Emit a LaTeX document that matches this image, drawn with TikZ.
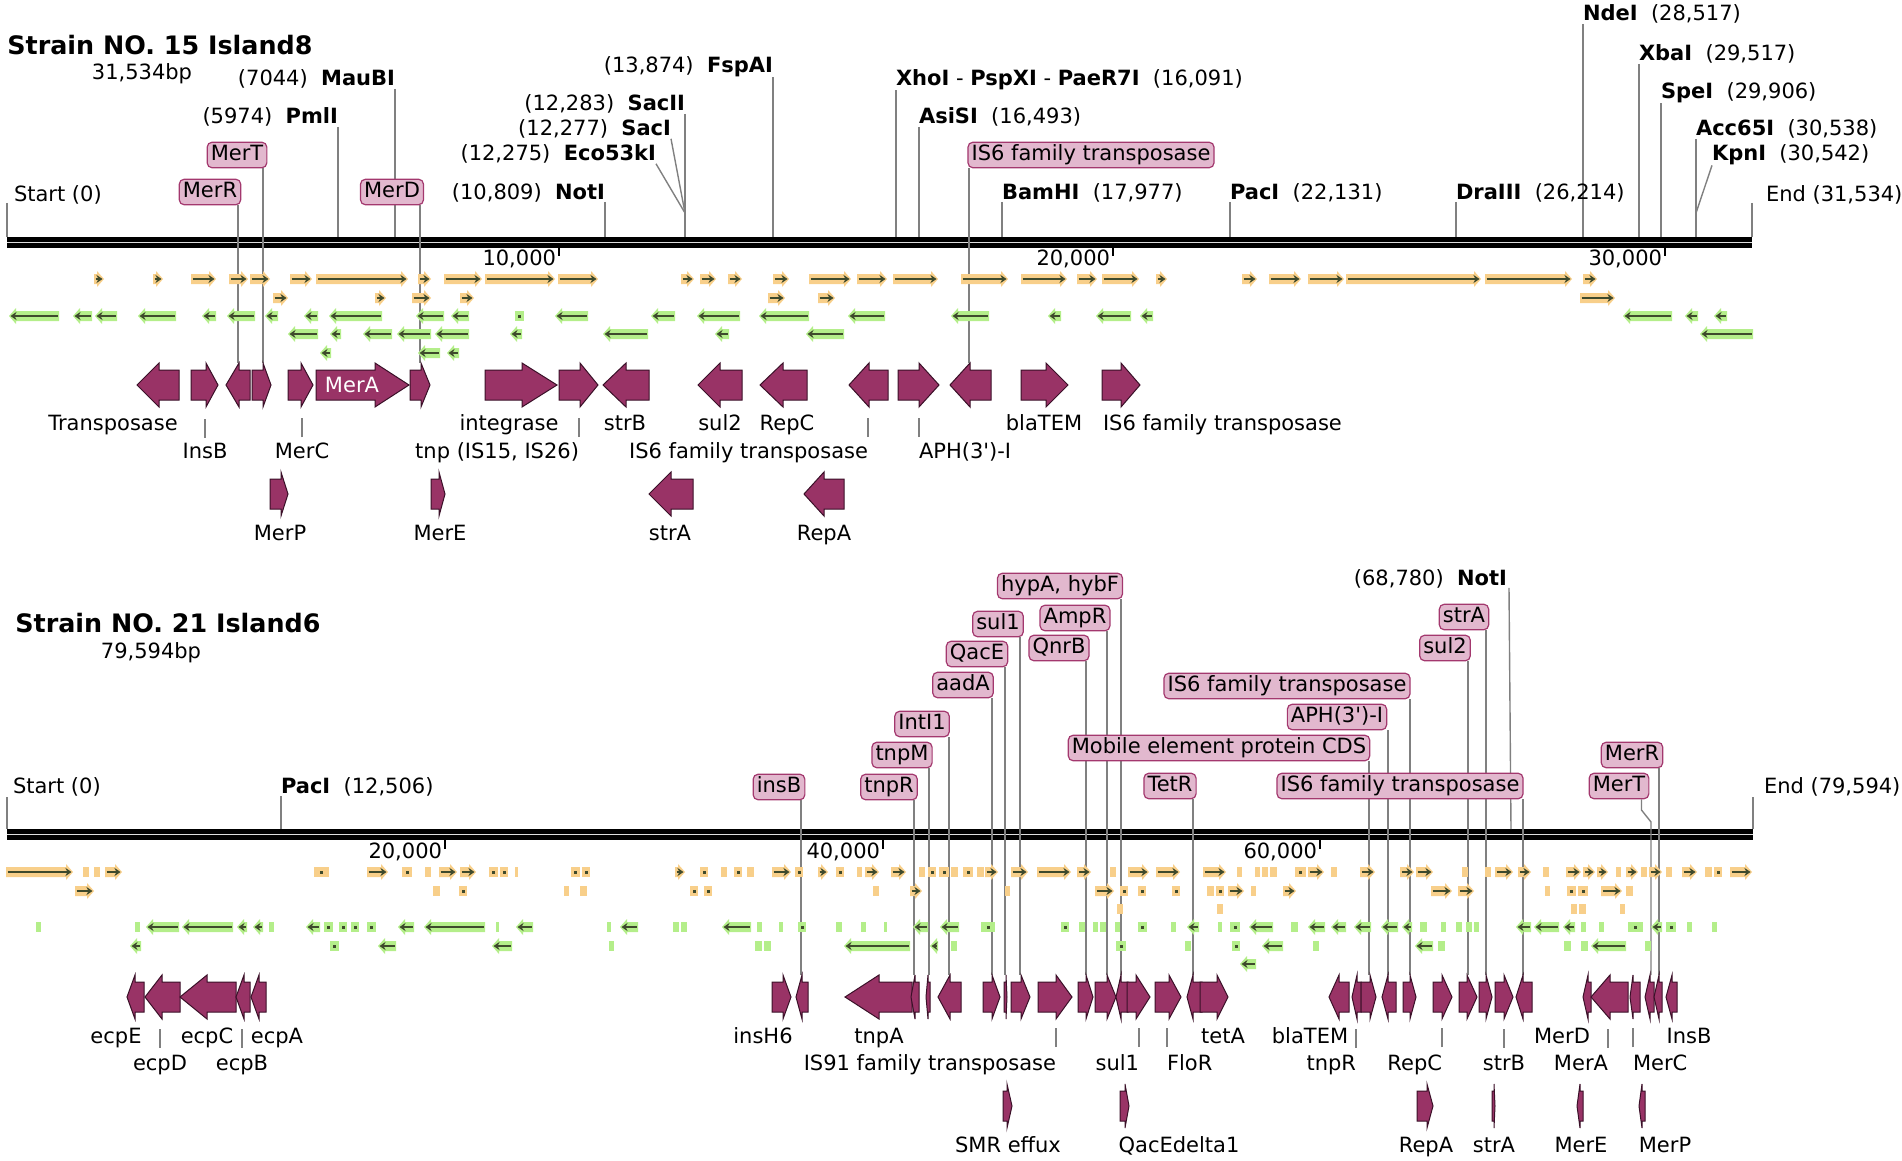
\documentclass[tikz,border=0pt]{standalone}
\usepackage{fontspec}
\setmainfont{DejaVu Sans}
\usepackage{tikz}
\usetikzlibrary{arrows.meta}
\usetikzlibrary{backgrounds}
\definecolor{gene}{HTML}{993366}
\definecolor{geneline}{HTML}{3A1028}
\definecolor{tagfill}{HTML}{E2B8CE}
\definecolor{tagline}{HTML}{A3386E}
\definecolor{fwdhl}{HTML}{F8CF8A}
\definecolor{revhl}{HTML}{B4EE8A}
\definecolor{featdark}{HTML}{3E4A2C}
\definecolor{leadgray}{HTML}{808080}
\newcommand*{\lblfont}{\fontsize{10.5}{12}\selectfont}
\newcommand*{\titlefont}{\fontsize{12.7}{15}\selectfont\bfseries}
\tikzstyle{base}=[x=0.5pt, y=-0.5pt]
\tikzstyle{lbl}=[font=\lblfont, inner sep=0pt, outer sep=0pt]
\tikzstyle{title}=[font=\titlefont, inner sep=0pt]
\tikzstyle{tag}=[font=\lblfont, draw=tagline, fill=tagfill, line width=0.6pt, rounded corners=2.5pt, inner xsep=1.8pt, inner ysep=1.5pt, text height=7.6pt, text depth=2.2pt]
\tikzstyle{lead}=[draw=leadgray, line width=0.7pt]
\tikzstyle{genebody}=[fill=gene, draw=geneline, line width=0.5pt]
\tikzstyle{tickmark}=[line width=1pt]
% gene arrow: start, tip, head base, y
\newcommand*{\genearrow}[4]{\draw[genebody] (#1,#4-15) -- (#3,#4-15) -- (#3,#4-22) -- (#2,#4) -- (#3,#4+22) -- (#3,#4+15) -- (#1,#4+15) -- cycle;}
% feature arrow: start, tip, y, colour
\newcommand*{\feat}[4]{%
  \pgfmathsetmacro{\fhd}{min(7,abs(#2-#1))}%
  \pgfmathsetmacro{\fsg}{ifthenelse(#2>#1,1,-1)}%
  \fill[#4] (#1,#3-5) -- ({#2-\fsg*\fhd},#3-5) -- ({#2-\fsg*\fhd},#3-8) -- (#2,#3) -- ({#2-\fsg*\fhd},#3+8) -- ({#2-\fsg*\fhd},#3+5) -- (#1,#3+5) -- cycle;
  \draw[featdark, line width=1pt, -{Stealth[length=3pt,width=4pt]}] ({#1+\fsg*1.5},#3) -- ({#2-\fsg*1.5},#3);}
% feature box: start, end, y, colour
\newcommand*{\featbox}[4]{%
  \fill[#4] (#1,#3-5) rectangle (#2,#3+5);
  \pgfmathtruncatemacro{\fwide}{(#2-#1)>7}%
  \ifnum\fwide=1 \fill[featdark] ({(#1+#2)/2-1.5},#3-1.5) rectangle ({(#1+#2)/2+1.5},#3+1.5);\fi}

\begin{document}
\begin{tikzpicture}[base]
\useasboundingbox (0,0) rectangle (1902,1161);

% ===== Strain NO. 15 =====
\node[title, anchor=base west] (title15) at (7,55) {Strain NO. 15 Island8};
\node[lbl, anchor=base] (len15) at (142,80) {31,534bp};
\coordinate (bar15) at (0,237);
\coordinate (s15) at (7,203);
\coordinate (e15) at (1752,203);
\node[lbl, anchor=base west] (start15) at (14,201) {Start (0)};
\node[lbl, anchor=base west] (end15) at (1766,201) {End (31,534)};

\node[lbl, anchor=base east] (pmli) at (338,124) {(5974)~~\textbf{PmlI}};
\node[lbl, anchor=base east] (maubi) at (395,86) {(7044)~~\textbf{MauBI}};
\node[lbl, anchor=base east] (noti) at (605,199) {(10,809)~~\textbf{NotI}};
\node[lbl, anchor=base east] (eco53ki) at (656,161) {(12,275)~~\textbf{Eco53kI}};
\node[lbl, anchor=base east] (saci) at (671,136) {(12,277)~~\textbf{SacI}};
\node[lbl, anchor=base east] (sacii) at (685,111) {(12,283)~~\textbf{SacII}};
\node[lbl, anchor=base east] (fspai) at (773,73) {(13,874)~~\textbf{FspAI}};
\node[lbl, anchor=base west] (xhoi) at (896,86) {\textbf{XhoI} - \textbf{PspXI} - \textbf{PaeR7I}~~(16,091)};
\node[lbl, anchor=base west] (asisi) at (919,124) {\textbf{AsiSI}~~(16,493)};
\node[lbl, anchor=base west] (bamhi) at (1002,199) {\textbf{BamHI}~~(17,977)};
\node[lbl, anchor=base west] (paci) at (1230,199) {\textbf{PacI}~~(22,131)};
\node[lbl, anchor=base west] (draiii) at (1456,199) {\textbf{DraIII}~~(26,214)};
\node[lbl, anchor=base west] (ndei) at (1583,21) {\textbf{NdeI}~~(28,517)};
\node[lbl, anchor=base west] (xbai) at (1639,61) {\textbf{XbaI}~~(29,517)};
\node[lbl, anchor=base west] (spei) at (1661,99) {\textbf{SpeI}~~(29,906)};
\node[lbl, anchor=base west] (acc65i) at (1696,136) {\textbf{Acc65I}~~(30,538)};
\node[lbl, anchor=base west] (kpni) at (1712,161) {\textbf{KpnI}~~(30,542)};
\coordinate (sacjoin) at (685,213);
\coordinate (kpnjoin) at (1696,213);

\node[tag] (merr) at (210,192) {MerR};
\node[tag] (mert) at (237,155) {MerT};
\node[tag] (merd) at (392,192) {MerD};
\node[tag] (is6a) at (1091,155) {IS6 family transposase};
\coordinate (g-merr) at (238,363);
\coordinate (g-mert) at (263,363);
\coordinate (g-merd) at (420,363);
\coordinate (g-is6a) at (969,363);

% ruler ticks
\foreach \tx/\tl in {559/{10,000}, 1113/{20,000}, 1665/{30,000}}{
  \draw[tickmark] (\tx,248) -- (\tx,256);
  \node[lbl, anchor=base east] (tk-\tx) at (\tx-3,265) {\tl};
}

% features
\foreach \a/\b in {94/104, 153/163, 191/216, 229/248, 250/270, 290/312, 316/408, 418/431, 444/482, 485/555, 558/598, 681/694, 700/716, 728/742, 773/789, 809/851, 857/887, 893/938, 961/1008, 1021/1067, 1077/1097, 1102/1139, 1156/1167, 1242/1257, 1269/1301, 1308/1344, 1346/1481, 1485/1572, 1583/1597}
  \feat{\a}{\b}{279}{fwdhl};
\foreach \a/\b in {273/288, 375/386, 412/431, 460/474, 768/785, 818/835, 1580/1615}
  \feat{\a}{\b}{298}{fwdhl};
\foreach \a/\b in {59/9, 92/73, 117/95, 176/138, 216/202, 255/227, 278/265, 318/304, 382/329, 444/416, 469/451, 588/555, 675/651, 740/697, 809/759, 885/848, 989/951, 1061/1048, 1131/1096, 1153/1140, 1672/1623, 1698/1685, 1727/1714}
  \feat{\a}{\b}{316}{revhl};
\featbox{515}{524}{316}{revhl}
\foreach \a/\b in {318/288, 341/330, 392/363, 431/397, 469/435, 522/510, 648/603, 729/715, 844/806, 1753/1700}
  \feat{\a}{\b}{334}{revhl};
\foreach \a/\b in {331/320, 440/418, 459/447}
  \feat{\a}{\b}{353}{revhl};

% genes
\genearrow{179}{137}{159}{385}
\genearrow{191}{218}{206}{385}
\genearrow{250}{226}{239}{385}
\genearrow{252}{271}{263}{385}
\genearrow{288}{313}{301}{385}
\genearrow{316}{409}{375}{385}
\genearrow{410}{430}{421}{385}
\genearrow{485}{557}{522}{385}
\genearrow{559}{598}{580}{385}
\genearrow{649}{603}{626}{385}
\genearrow{742}{698}{720}{385}
\genearrow{807}{760}{783}{385}
\genearrow{888}{849}{869}{385}
\genearrow{898}{939}{919}{385}
\genearrow{991}{950}{970}{385}
\genearrow{1021}{1068}{1046}{385}
\genearrow{1102}{1140}{1121}{385}
\genearrow{270}{288}{281}{494}
\genearrow{431}{445}{439}{494}
\genearrow{693}{649}{671}{494}
\genearrow{844}{804}{824}{494}
\node[lbl, text=white, anchor=center] (mera-in) at (352,385) {MerA};

\node[lbl, anchor=base] (l-transposase) at (113,430) {Transposase};
\node[lbl, anchor=base] (l-integrase) at (509,430) {integrase};
\node[lbl, anchor=base] (l-strb) at (625,430) {strB};
\node[lbl, anchor=base] (l-sul2) at (720,430) {sul2};
\node[lbl, anchor=base] (l-repc) at (787,430) {RepC};
\node[lbl, anchor=base] (l-blatem) at (1044,430) {blaTEM};
\node[lbl, anchor=base west] (l-is6r) at (1103,430) {IS6 family transposase};
\node[lbl, anchor=base] (l-insb) at (205,458) {InsB};
\node[lbl, anchor=base] (l-merc) at (302,458) {MerC};
\node[lbl, anchor=base east] (l-tnp) at (579,458) {tnp (IS15, IS26)};
\node[lbl, anchor=base east] (l-is6l) at (868,458) {IS6 family transposase};
\node[lbl, anchor=base west] (l-aph) at (919,458) {APH(3\textquotesingle)-I};
\node[lbl, anchor=base] (l-merp) at (280,540) {MerP};
\node[lbl, anchor=base] (l-mere) at (440,540) {MerE};
\node[lbl, anchor=base] (l-stra) at (670,540) {strA};
\node[lbl, anchor=base] (l-repa) at (824,540) {RepA};
\draw[lead] (l-insb.north) ++(0,-5) -- +(0,-19);
\draw[lead] (l-merc.north) ++(0,-5) -- +(0,-19);
\draw[lead] (l-tnp.north east) ++(0,-5) -- +(0,-19);
\draw[lead] (l-is6l.north east) ++(0,-5) -- +(0,-19);
\draw[lead] (l-aph.north west) ++(0,-5) -- +(0,-19);

% ===== Strain NO. 21 =====
\node[title, anchor=base west] (title21) at (15,632) {Strain NO. 21 Island6};
\node[lbl, anchor=base] (len21) at (151,658) {79,594bp};
\coordinate (bar21) at (0,829);
\coordinate (s21) at (7,797);
\coordinate (e21) at (1753,797);
\node[lbl, anchor=base west] (start21) at (13,793) {Start (0)};
\node[lbl, anchor=base west] (end21) at (1764,793) {End (79,594)};
\node[lbl, anchor=base west] (paci21) at (281,793) {\textbf{PacI}~~(12,506)};
\node[lbl, anchor=base east] (noti21) at (1507,585) {(68,780)~~\textbf{NotI}};

\node[tag] (insb) at (779,787) {insB};
\node[tag] (tnpr) at (889,787) {tnpR};
\node[tag] (tnpm) at (902,755) {tnpM};
\node[tag] (inti1) at (922,724) {IntI1};
\node[tag] (aada) at (963,685) {aadA};
\node[tag] (qace) at (977,654) {QacE};
\node[tag] (sul1) at (998,624) {sul1};
\node[tag] (hypa) at (1060,586) {hypA, hybF};
\node[tag] (ampr) at (1075,618) {AmpR};
\node[tag] (qnrb) at (1059,648) {QnrB};
\node[tag] (mobile) at (1219,748) {Mobile element protein CDS};
\node[tag] (tetr) at (1170,786) {TetR};
\node[tag] (is6b) at (1287,686) {IS6 family transposase};
\node[tag] (aph) at (1337,717) {APH(3\textquotesingle)-I};
\node[tag] (is6c) at (1400,786) {IS6 family transposase};
\node[tag] (sul2) at (1445,648) {sul2};
\node[tag] (stra) at (1464,617) {strA};
\node[tag] (merrb) at (1632,755) {MerR};
\node[tag] (mertb) at (1619,786) {MerT};
\foreach \g/\gx in {insb/801, tnpr/914, tnpm/929, inti1/949, aada/992, qace/1005, sul1/1020, hypa/1121, ampr/1107, qnrb/1086, mobile/1369, tetr/1193, is6b/1410, aph/1388, is6c/1523, sul2/1468, stra/1486, merrb/1659}
  \coordinate (g-\g) at (\gx,975);
\coordinate (g-mertb) at (1651,975);
\coordinate (mertbend) at (1651,822);

\foreach \tx/\tl in {445/{20,000}, 883/{40,000}, 1320/{60,000}}{
  \draw[tickmark] (\tx,840) -- (\tx,849);
  \node[lbl, anchor=base east] (tk-\tx) at (\tx-3,858) {\tl};
}

% features
\foreach \a/\b in {6/73, 105/122, 367/388, 439/457, 460/476, 675/685, 772/791, 818/828, 865/879, 891/906, 985/998, 1011/1028, 1037/1071, 1077/1091, 1128/1149, 1156/1180, 1203/1226, 1308/1324, 1360/1375, 1400/1414, 1416/1433, 1495/1513, 1518/1531, 1566/1581, 1583/1595, 1597/1608, 1626/1638, 1649/1662, 1682/1697, 1730/1752}
  \feat{\a}{\b}{872}{fwdhl};
\foreach \a/\b in {83/89, 94/100, 314/329, 402/412, 425/431, 489/498, 500/508, 515/518, 571/580, 582/590, 700/708, 721/727, 734/742, 747/754, 795/803, 836/844, 857/862, 919/925, 928/936, 939/949, 951/958, 963/973, 977/984, 1110/1116, 1237/1242, 1255/1260, 1262/1268, 1270/1277, 1295/1306, 1331/1337, 1462/1468, 1485/1491, 1543/1549, 1616/1621, 1641/1647, 1666/1672, 1705/1712, 1714/1722}
  \featbox{\a}{\b}{872}{fwdhl};
\foreach \a/\b in {75/94, 910/922, 1095/1114, 1228/1244, 1283/1296, 1431/1452, 1458/1474, 1601/1622}
  \feat{\a}{\b}{891}{fwdhl};
\foreach \a/\b in {433/440, 459/467, 564/569, 580/587, 690/698, 704/712, 873/879, 1005/1010, 1120/1128, 1138/1146, 1172/1180, 1207/1214, 1216/1224, 1251/1256, 1545/1550, 1567/1576, 1578/1588, 1626/1633}
  \featbox{\a}{\b}{891}{fwdhl};
\foreach \a/\b in {1117/1123, 1217/1223, 1571/1577, 1579/1586, 1620/1625}
  \featbox{\a}{\b}{909}{fwdhl};
\foreach \a/\b in {179/146, 233/182, 247/237, 263/253, 320/306, 414/398, 485/424, 533/516, 638/620, 751/722, 928/913, 959/940, 1199/1187, 1273/1249, 1325/1308, 1346/1331, 1371/1354, 1398/1381, 1412/1402, 1531/1516, 1559/1534, 1575/1563, 1662/1651}
  \feat{\a}{\b}{927}{revhl};
\foreach \a/\b in {36/41, 135/140, 269/274, 324/333, 339/347, 351/359, 367/376, 496/499, 607/611, 673/679, 681/687, 757/762, 779/783, 798/806, 836/842, 861/866, 884/887, 981/995, 1061/1069, 1079/1085, 1093/1098, 1100/1106, 1115/1120, 1138/1147, 1171/1176, 1218/1222, 1230/1240, 1291/1298, 1420/1427, 1441/1446, 1456/1462, 1466/1472, 1474/1479, 1581/1586, 1599/1604, 1628/1643, 1666/1676, 1687/1692, 1712/1717}
  \featbox{\a}{\b}{927}{revhl};
\foreach \a/\b in {141/130, 396/378, 512/492, 910/844, 938/930, 1283/1262, 1433/1415, 1626/1591}
  \feat{\a}{\b}{946}{revhl};
\foreach \a/\b in {330/339, 609/614, 755/762, 764/771, 951/957, 1116/1126, 1185/1191, 1232/1240, 1313/1319, 1438/1445, 1564/1571, 1581/1588, 1645/1651}
  \featbox{\a}{\b}{946}{revhl};
\feat{1256}{1240}{964}{revhl}

% genes
\foreach \a/\b/\h in {144/127/135, 180/145/162, 236/180/207, 250/236/244, 266/251/259, 772/791/783, 808/796/802, 912/845/879, 919/911/915, 930/926/928, 961/938/950, 983/1000/992, 1004/1007/1006, 1011/1030/1021, 1038/1072/1056, 1078/1093/1086, 1095/1116/1107, 1128/1116/1121, 1127/1150/1136, 1155/1181/1169, 1202/1187/1193, 1200/1228/1217, 1349/1329/1339, 1361/1352/1357, 1361/1376/1370, 1396/1382/1388, 1403/1416/1410, 1433/1452/1442, 1459/1477/1467, 1479/1492/1486, 1495/1513/1504, 1532/1516/1523, 1591/1583/1588, 1628/1591/1610, 1640/1630/1633, 1654/1645/1650, 1662/1654/1659, 1677/1666/1672}
  \genearrow{\a}{\b}{\h}{997};
\foreach \a/\b/\h in {1003/1012/1007, 1120/1129/1125, 1417/1433/1427, 1492/1495/1494, 1583/1577/1580, 1645/1639/1642}
  \genearrow{\a}{\b}{\h}{1106};

\node[lbl, anchor=base] (m-ecpe) at (116,1043) {ecpE};
\node[lbl, anchor=base] (m-ecpc) at (207,1043) {ecpC};
\node[lbl, anchor=base] (m-ecpa) at (277,1043) {ecpA};
\node[lbl, anchor=base] (m-insh6) at (763,1043) {insH6};
\node[lbl, anchor=base] (m-tnpa) at (879,1043) {tnpA};
\node[lbl, anchor=base] (m-teta) at (1223,1043) {tetA};
\node[lbl, anchor=base] (m-blatem) at (1310,1043) {blaTEM};
\node[lbl, anchor=base] (m-merd) at (1562,1043) {MerD};
\node[lbl, anchor=base] (m-insb) at (1689,1043) {InsB};
\node[lbl, anchor=base] (m-ecpd) at (160,1070) {ecpD};
\node[lbl, anchor=base] (m-ecpb) at (242,1070) {ecpB};
\node[lbl, anchor=base east] (m-is91) at (1056,1070) {IS91 family transposase};
\node[lbl, anchor=base east] (m-sul1) at (1139,1070) {sul1};
\node[lbl, anchor=base west] (m-flor) at (1167,1070) {FloR};
\node[lbl, anchor=base east] (m-tnpr) at (1356,1070) {tnpR};
\node[lbl, anchor=base east] (m-repc) at (1442,1070) {RepC};
\node[lbl, anchor=base] (m-strb) at (1504,1070) {strB};
\node[lbl, anchor=base east] (m-mera) at (1608,1070) {MerA};
\node[lbl, anchor=base west] (m-merc) at (1633,1070) {MerC};
\node[lbl, anchor=base] (m-smr) at (1008,1152) {SMR effux};
\node[lbl, anchor=base] (m-qacd) at (1179,1152) {QacEdelta1};
\node[lbl, anchor=base] (m-repa) at (1426,1152) {RepA};
\node[lbl, anchor=base] (m-stra) at (1494,1152) {strA};
\node[lbl, anchor=base] (m-mere) at (1581,1152) {MerE};
\node[lbl, anchor=base] (m-merp) at (1665,1152) {MerP};
\foreach \m/\an in {ecpd/north, ecpb/north, is91/north east, sul1/north east, flor/north west, tnpr/north east, repc/north east, strb/north, mera/north east, merc/north west}
  \draw[lead] (m-\m.\an) ++(0,-7) -- +(0,-19);

% ===== bars and leader lines =====
\begin{scope}[on background layer]
  \fill[black] (7,237) rectangle (1752,248);
  \draw[white!75!gray, line width=0.8pt] (7,242.5) -- (1752,242.5);
  \fill[black] (7,829) rectangle (1753,840);
  \draw[white!75!gray, line width=0.8pt] (7,834.5) -- (1753,834.5);

  \draw[lead] (s15) -- (s15 |- bar15);
  \draw[lead] (e15) -- (e15 |- bar15);
  \foreach \en in {pmli, maubi, noti, sacii, fspai}
    \draw[lead] (\en.south east) -- (\en.south east |- bar15);
  \foreach \en in {xhoi, asisi, bamhi, paci, draiii, ndei, xbai, spei, acc65i}
    \draw[lead] (\en.south west) -- (\en.south west |- bar15);
  \draw[lead] (eco53ki.south east) -- (sacjoin);
  \draw[lead] (saci.south east) -- (sacjoin);
  \draw[lead] (kpni.south west) -- (kpnjoin);
  \foreach \g in {merr, mert, merd, is6a}
    \draw[lead] (\g.south -| g-\g) -- (g-\g);

  \draw[lead] (s21) -- (s21 |- bar21);
  \draw[lead] (e21) -- (e21 |- bar21);
  \draw[lead] (paci21.south west) -- (paci21.south west |- bar21);
  \draw[lead] ([xshift=1pt]noti21.south east) -- ([xshift=2pt]noti21.south east |- bar21);
  \foreach \g in {insb, tnpr, tnpm, inti1, aada, qace, sul1, hypa, ampr, qnrb, mobile, tetr, is6b, aph, is6c, sul2, stra, merrb}
    \draw[lead] (\g.south -| g-\g) -- (g-\g);
  \draw[lead] ([xshift=-4pt]mertb.south east) -- ([xshift=-4pt]mertb.south east |- 0,810) -- (mertbend) -- (g-mertb);
\end{scope}
\end{tikzpicture}
\end{document}
